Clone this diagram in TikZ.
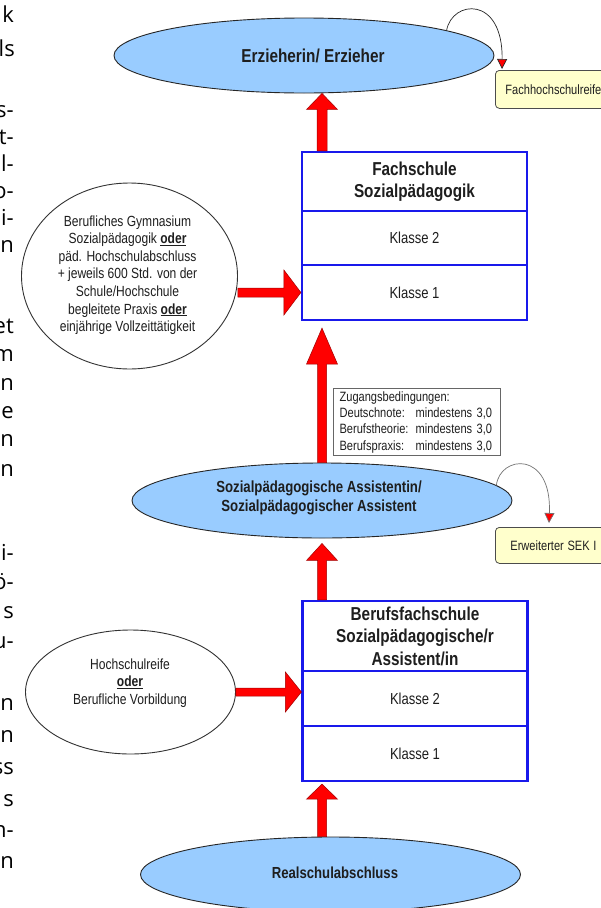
\documentclass[tikz,border=0pt]{standalone}
\usepackage{fontspec}
\setmainfont[FakeStretch=0.82]{Liberation Sans}
\newfontfamily\colfont{Open Sans}
\usetikzlibrary{shapes.geometric,arrows.meta,calc}
\definecolor{ellblue}{RGB}{153,204,255}
\definecolor{boxblue}{RGB}{25,25,235}
\definecolor{arrred}{RGB}{255,0,0}
\definecolor{arredge}{RGB}{160,0,0}
\definecolor{notey}{RGB}{255,255,204}
\definecolor{txt}{RGB}{30,30,30}
\newcommand\odr{\underline{\textbf{oder}}}
% vertical block arrow: tail, tip, head length, head half width, shaft half width
\newcommand\blockup[5]{\filldraw[blockarrow] let \p1=(#1), \p2=(#2) in
  (\x2-#5,\y1) -- (\x2-#5,\y2-#3) -- (\x2-#4,\y2-#3) -- (\x2,\y2) --
  (\x2+#4,\y2-#3) -- (\x2+#5,\y2-#3) -- (\x2+#5,\y1) -- cycle;}
% horizontal block arrow (pointing right)
\newcommand\blockright[5]{\filldraw[blockarrow] let \p1=(#1), \p2=(#2) in
  (\x1,\y2+#5) -- (\x2-#3,\y2+#5) -- (\x2-#3,\y2+#4) -- (\x2,\y2) --
  (\x2-#3,\y2-#4) -- (\x2-#3,\y2-#5) -- (\x1,\y2-#5) -- cycle;}
\tikzset{
  blueell/.style={ellipse, draw=black!85, fill=ellblue, line width=0.9pt, inner sep=0pt},
  whiteell/.style={ellipse, draw=black!80, fill=white, line width=0.9pt, inner sep=0pt},
  rowbox/.style={rectangle, draw=boxblue, line width=2.2pt, fill=white, minimum width=225pt,
    inner sep=0pt, align=center, text=txt},
  titlef/.style={font=\fontsize{18.7}{22.5}\selectfont\bfseries},
  klf/.style={font=\fontsize{15.9}{19}\selectfont},
  elltext/.style={inner sep=0pt, align=center, text=txt},
  circf/.style={font=\fontsize{14.7}{17.6}\selectfont},
  notebox/.style={rectangle, rounded corners=4pt, draw=black!70, fill=notey, line width=0.8pt,
    inner ysep=0pt, align=left, text=txt, font=\fontsize{13.5}{16}\selectfont},
  zbox/.style={rectangle, draw=black!60, fill=white, line width=1.2pt, inner xsep=6pt,
    inner ysep=0pt, align=left, text=txt, font=\fontsize{13.5}{16.3}\selectfont},
  blockarrow/.style={fill=arrred, draw=arredge, line width=0.5pt},
  loopline/.style={line width=0.7pt, -{Triangle[length=10pt, width=10pt, fill=arrred]}},
  colt/.style={anchor=base east, inner sep=0pt, font=\colfont\fontsize{22}{26}\selectfont, text=black}
}
\begin{document}
\begin{tikzpicture}[x=1pt,y=-1pt]
\useasboundingbox (0,0) rectangle (601,908);
\fill[white] (0,0) rectangle (601,908);

% left text column (cut off)
\node[colt] (c1) at (14,22) {k};
\node[colt] (c2) at (15,56) {ls};
\node[colt] (c3) at (14,117) {s-};
\node[colt] (c4) at (14,144) {t-};
\node[colt] (c5) at (14,171) {l-};
\node[colt] (c6) at (14,198) {o-};
\node[colt] (c7) at (14,225) {i-};
\node[colt] (c8) at (14,252) {n};
\node[colt] (c9) at (14,333) {et};
\node[colt] (c10) at (14,361) {m};
\node[colt] (c11) at (14,390) {n};
\node[colt] (c12) at (14,418) {e};
\node[colt] (c13) at (14,446) {n};
\node[colt] (c14) at (14,476) {n};
\node[colt] (c15) at (14,560) {i-};
\node[colt] (c16) at (14,589) {ö-};
\node[colt] (c17) at (14,618) {s};
\node[colt] (c18) at (14,648) {u-};
\node[colt] (c19) at (14,710) {n};
\node[colt] (c20) at (14,742) {n};
\node[colt] (c21) at (14,774) {ss};
\node[colt] (c22) at (14,806) {s};
\node[colt] (c23) at (14,837) {n-};
\node[colt] (c24) at (14,868) {n};

% top ellipse
\node[blueell, minimum width=380pt, minimum height=75pt] (erz) at (304,55.5) {};
\node[elltext, titlef] (erzt) at (313,56) {Erzieherin/ Erzieher};

% Fachhochschulreife note
\node[notebox, anchor=north west, minimum height=38pt, text width=110pt, inner xsep=10pt] (fhr) at (495,70) {Fachhochschulreife};
\coordinate (t1) at ($(fhr.north west)+(7,-1)$);
\draw[loopline, draw=black!85] (erz.10) .. controls (452,0) and (503,-5) .. (t1);

% Fachschule box
\node[rowbox, titlef, minimum height=59pt] (fsT) at (414.5,181.5) {Fachschule\\Sozialpädagogik};
\node[rowbox, klf, minimum height=54pt] (fsK2) at (414.5,238) {Klasse 2};
\node[rowbox, klf, minimum height=55pt] (fsK1) at (414.5,292.5) {Klasse 1};

% left circle
\node[whiteell, minimum width=216pt, minimum height=186pt] (circ) at (129.5,276) {};
\node[elltext, circf] (circt) at (127.5,275) {Berufliches Gymnasium\\Sozialpädagogik \odr\\päd. Hochschulabschluss\\+ jeweils 600 Std. von der\\Schule/Hochschule\\begleitete Praxis \odr\\einjährige Vollzeittätigkeit};

% SPA ellipse
\node[blueell, minimum width=380pt, minimum height=75pt] (spa) at (322,500.5) {};
\node[elltext, font=\fontsize{16.1}{19}\selectfont\bfseries] (spat) at (319,498) {Sozialpädagogische Assistentin/\\Sozialpädagogischer Assistent};

% Zugangsbedingungen
\node[zbox, anchor=north west, minimum height=67pt, text width=155pt] (zug) at (333,388)
  {Zugangsbedingungen:\\\makebox[76pt][l]{Deutschnote:}mindestens 3,0\\\makebox[76pt][l]{Berufstheorie:}mindestens 3,0\\\makebox[76pt][l]{Berufspraxis:}mindestens 3,0};

% Erweiterter SEK I note
\node[notebox, anchor=north west, minimum height=36pt, text width=100pt, inner xsep=15pt] (sek) at (495,527) {Erweiterter\hspace{-0.8pt} SEK\hspace{-0.8pt} I};
\coordinate (t2) at ($(sek.north west)+(54,-4)$);
\draw[loopline, draw=black!55] (spa.5) .. controls (500,455) and (552,450) .. (t2);

% Berufsfachschule box
\node[rowbox, titlef, minimum height=70pt] (bfT) at (415,636) {Berufsfachschule\\Sozialpädagogische/r\\Assistent/in};
\node[rowbox, klf, minimum height=55pt] (bfK2) at (415,698.5) {Klasse 2};
\node[rowbox, klf, minimum height=55pt] (bfK1) at (415,753.5) {Klasse 1};

% Hochschulreife ellipse
\node[whiteell, minimum width=210pt, minimum height=124pt] (hr) at (130.5,692) {};
\node[elltext, circf] (hrt) at (130,683) {Hochschulreife\\\odr\\Berufliche Vorbildung};

% Realschulabschluss ellipse
\node[blueell, minimum width=380pt, minimum height=75pt] (rs) at (330.5,874.5) {};
\node[elltext, font=\fontsize{16}{19}\selectfont\bfseries] (rst) at (335,873) {Realschulabschluss};

% block arrows
\coordinate (a1s) at (fsT.north -| spa.north);
\coordinate (a1e) at (erz.south -| spa.north);
\blockup{a1s}{a1e}{16pt}{15.5pt}{5pt}
\coordinate (a2e) at ($(fsK1.south -| spa.north)+(0,7)$);
\blockup{spa.north}{a2e}{36pt}{15.5pt}{4.5pt}
\coordinate (a3s) at (bfT.north -| spa.south);
\coordinate (a3e) at ($(spa.south)+(0,5)$);
\blockup{a3s}{a3e}{17pt}{15.5pt}{4.5pt}
\coordinate (a4s) at (rs.north -| spa.south);
\coordinate (a4e) at ($(bfK1.south -| spa.south)+(0,2)$);
\blockup{a4s}{a4e}{15pt}{15.5pt}{4.5pt}
\coordinate (a5s) at (circ.east |- fsK1.west);
\blockright{a5s}{fsK1.west}{17pt}{22.5pt}{4.5pt}
\coordinate (a6e) at (hr.east -| bfK2.west);
\blockright{hr.east}{a6e}{16pt}{20pt}{4pt}
\end{tikzpicture}
\end{document}
